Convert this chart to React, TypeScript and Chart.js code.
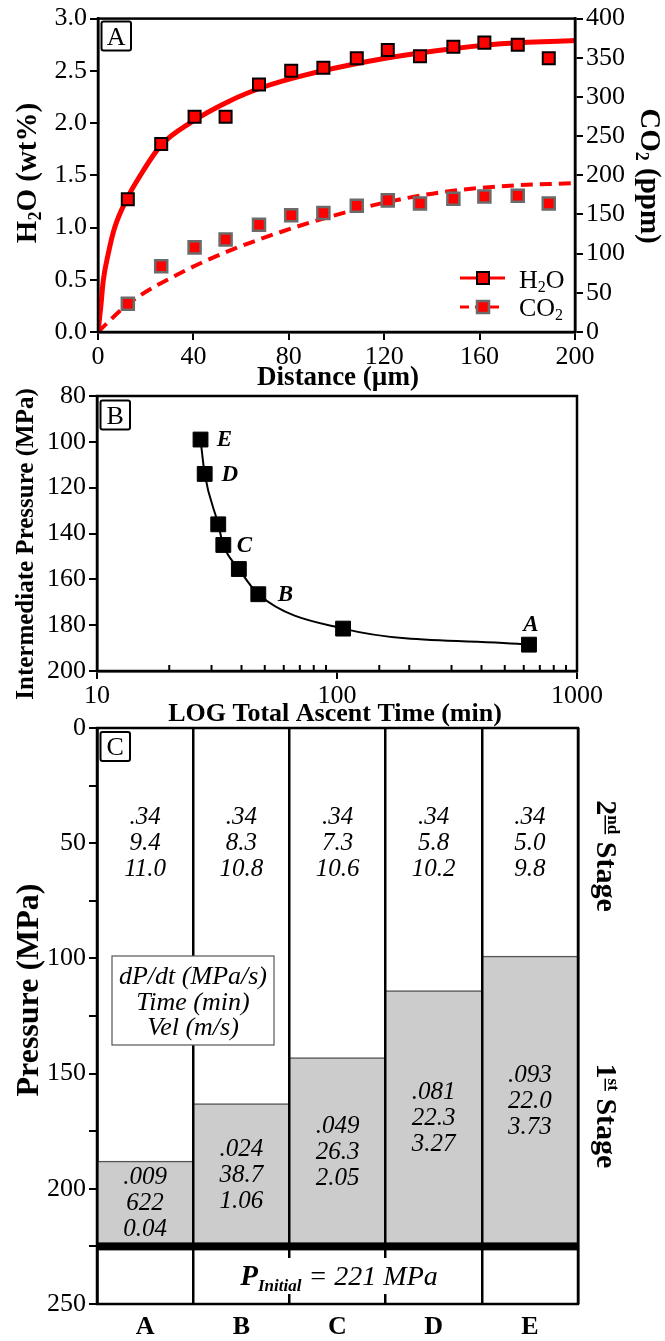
import React, { useEffect, useRef } from 'react';
import { Chart, registerables } from 'chart.js';

Chart.register(...registerables);

const SERIF = '"Liberation Serif", "Times New Roman", Times, serif';
Chart.defaults.font.family = SERIF;
Chart.defaults.color = '#000';

// ---------- Panel A data ----------
const distanceUm = [12.5, 26.5, 40.5, 53.5, 67.5, 81, 94.5, 108.5, 121.5, 135, 149, 162, 176, 189];
const h2oWt = [1.27, 1.8, 2.06, 2.06, 2.37, 2.5, 2.53, 2.62, 2.7, 2.64, 2.73, 2.77, 2.75, 2.62];
const co2Ppm = [36, 84, 108, 118, 137, 149, 152, 161, 168, 164, 170, 173, 174, 164];
const h2oFitDistance = [0, 0.6, 1.2, 2.2, 4.3, 7, 12, 17.5, 26.5, 38.5, 55, 70, 85, 113, 141, 169, 200];
const h2oFitWt = [0, 0.12, 0.25, 0.49, 0.75, 1.0, 1.27, 1.49, 1.79, 2.0, 2.21, 2.35, 2.45, 2.59, 2.69, 2.76, 2.79];
const co2FitDistance = [0, 12.7, 37, 57, 76, 97, 120, 143, 169, 200];
const co2FitPpm = [0, 36, 79, 106, 127, 147, 165, 178, 186, 190];

// ---------- Panel B data ----------
const totalAscentMin = [27.0, 28.1, 32.0, 33.6, 39.0, 47.0, 106, 631];
const intermediateMPa = [99, 114, 136, 145, 155.5, 166.5, 181.5, 188.5];
const pointLetters = ['E', 'D', '', 'C', '', 'B', '', 'A'];
const logMajorTicks = [10, 100, 1000];

// ---------- Panel C data ----------
const scenarios = ['A', 'B', 'C', 'D', 'E'];
const firstStageTopMPa = [188, 163, 143, 114, 99];
const initialLevelMPa = 225;
const secondStageMidMPa = 50;
const dpdt2 = ['.34', '.34', '.34', '.34', '.34'];
const time2 = ['9.4', '8.3', '7.3', '5.8', '5.0'];
const vel2 = ['11.0', '10.8', '10.6', '10.2', '9.8'];
const dpdt1 = ['.009', '.024', '.049', '.081', '.093'];
const time1 = ['622', '38.7', '26.3', '22.3', '22.0'];
const vel1 = ['0.04', '1.06', '2.05', '3.27', '3.73'];

// ---------- layout ----------
const W = 665;
const TOP_A = 0, H_A = 392;
const TOP_B = 370, H_B = 360;
const TOP_C = 700, H_C = 641;

type Run = { t: string; size: number; bold?: boolean; italic?: boolean; dy?: number; underline?: boolean };
const fontOf = (r: Run) => `${r.italic ? 'italic ' : ''}${r.bold ? 'bold ' : ''}${r.size}px ${SERIF}`;

function drawRuns(ctx: CanvasRenderingContext2D, runs: Run[], x: number, y: number, rot = 0, align: 'center' | 'left' = 'center') {
  ctx.save();
  ctx.translate(x, y);
  ctx.rotate(rot);
  ctx.textBaseline = 'alphabetic';
  ctx.textAlign = 'left';
  ctx.fillStyle = '#000';
  let total = 0;
  const widths = runs.map((r) => {
    ctx.font = fontOf(r);
    const w = ctx.measureText(r.t).width;
    total += w;
    return w;
  });
  let cx = align === 'center' ? -total / 2 : 0;
  runs.forEach((r, i) => {
    ctx.font = fontOf(r);
    const by = r.dy || 0;
    ctx.fillText(r.t, cx, by);
    if (r.underline) ctx.fillRect(cx, by + 2, widths[i], 1.5);
    cx += widths[i];
  });
  ctx.restore();
  return total;
}

function letterBox(ctx: CanvasRenderingContext2D, letter: string, x: number, y: number) {
  ctx.save();
  ctx.strokeStyle = '#000';
  ctx.lineWidth = 2;
  ctx.beginPath();
  (ctx as any).roundRect ? (ctx as any).roundRect(x, y, 29.5, 29, 2) : ctx.rect(x, y, 29.5, 29);
  ctx.fillStyle = '#fff';
  ctx.fill();
  ctx.stroke();
  ctx.fillStyle = '#000';
  ctx.font = `26px ${SERIF}`;
  ctx.textAlign = 'center';
  ctx.textBaseline = 'alphabetic';
  ctx.fillText(letter, x + 14.75, y + 23);
  ctx.restore();
}

function frame(ctx: CanvasRenderingContext2D, ca: any) {
  ctx.save();
  ctx.strokeStyle = '#000';
  ctx.lineWidth = 2.5;
  ctx.strokeRect(ca.left, ca.top, ca.right - ca.left, ca.bottom - ca.top);
  ctx.restore();
}

function square(ctx: CanvasRenderingContext2D, x: number, y: number, s: number, fill: string, stroke: string, lw: number) {
  ctx.save();
  ctx.fillStyle = fill;
  ctx.strokeStyle = stroke;
  ctx.lineWidth = lw;
  ctx.beginPath();
  ctx.rect(x - s / 2, y - s / 2, s, s);
  ctx.fill();
  ctx.stroke();
  ctx.restore();
}

const tickFont = { family: SERIF, size: 26 };

const panelAPlugin = {
  id: 'panelA',
  afterDraw(chart: any) {
    const { ctx, chartArea } = chart;
    frame(ctx, chartArea);
    ctx.save();
    ctx.translate(0, -TOP_A);
    letterBox(ctx, 'A', 101.5, 21.5);
    // legend
    const ly1 = 278, ly2 = 307;
    ctx.strokeStyle = '#ff0000';
    ctx.lineWidth = 3;
    ctx.beginPath(); ctx.moveTo(460, ly1); ctx.lineTo(505, ly1); ctx.stroke();
    ctx.setLineDash([9, 6]);
    ctx.beginPath(); ctx.moveTo(460, ly2); ctx.lineTo(505, ly2); ctx.stroke();
    ctx.setLineDash([]);
    square(ctx, 483, ly1, 12, '#ff0000', '#000', 2);
    square(ctx, 483, ly2, 12, '#ff0000', '#6b6b6b', 2.5);
    drawRuns(ctx, [{ t: 'H', size: 26 }, { t: '2', size: 16, dy: 4 }, { t: 'O', size: 26 }], 519, 288, 0, 'left');
    drawRuns(ctx, [{ t: 'CO', size: 26 }, { t: '2', size: 16, dy: 4 }], 519, 316, 0, 'left');
    // titles
    drawRuns(ctx, [
      { t: 'H', size: 29, bold: true },
      { t: '2', size: 18, bold: true, dy: 5 },
      { t: 'O (wt%)', size: 29, bold: true },
    ], 36, 173, -Math.PI / 2);
    drawRuns(ctx, [
      { t: 'CO', size: 29, bold: true },
      { t: '2', size: 18, bold: true, dy: 5 },
      { t: ' (ppm)', size: 29, bold: true },
    ], 641, 176, Math.PI / 2);
    drawRuns(ctx, [{ t: 'Distance (\u00b5m)', size: 27, bold: true }], 338, 385);
    ctx.restore();
  },
};

const panelBPlugin = {
  id: 'panelB',
  afterDraw(chart: any) {
    const { ctx, chartArea } = chart;
    frame(ctx, chartArea);
    const xs = chart.scales.x;
    ctx.save();
    ctx.strokeStyle = '#000';
    ctx.lineWidth = 2;
    xs.ticks.forEach((t: any) => {
      if (logMajorTicks.includes(t.value)) return;
      const px = xs.getPixelForValue(t.value);
      ctx.beginPath();
      ctx.moveTo(px, chartArea.bottom);
      ctx.lineTo(px, chartArea.bottom - 6);
      ctx.stroke();
    });
    const offsets: Record<string, [number, number]> = { E: [24, 1], D: [25, 1], C: [21, 1], B: [27, 1], A: [2, -20] };
    const meta = chart.getDatasetMeta(0);
    ctx.font = `italic bold 23px ${SERIF}`;
    ctx.fillStyle = '#000';
    ctx.textAlign = 'center';
    ctx.textBaseline = 'middle';
    meta.data.forEach((pt: any, i: number) => {
      const L = pointLetters[i];
      if (!L) return;
      const o = offsets[L];
      ctx.fillText(L, pt.x + o[0], pt.y + o[1]);
    });
    ctx.translate(0, -TOP_B);
    letterBox(ctx, 'B', 100.5, 400.5);
    drawRuns(ctx, [{ t: 'Intermediate Pressure (MPa)', size: 25, bold: true }], 33, 544, -Math.PI / 2);
    drawRuns(ctx, [{ t: 'LOG Total Ascent Time (min)', size: 26, bold: true }], 335, 721);
    ctx.restore();
  },
};

const panelCPlugin = {
  id: 'panelC',
  afterDraw(chart: any) {
    const { ctx, chartArea: ca } = chart;
    const xs = chart.scales.x;
    const ys = chart.scales.y;
    ctx.save();
    const yb = ys.getPixelForValue(initialLevelMPa);
    ctx.fillStyle = '#000';
    ctx.fillRect(ca.left, yb - 4, ca.right - ca.left, 8);
    ctx.restore();
    frame(ctx, ca);
    ctx.save();
    ctx.fillStyle = '#000';
    ctx.font = `italic 25px ${SERIF}`;
    ctx.textAlign = 'center';
    ctx.textBaseline = 'middle';
    const LH = 26;
    scenarios.forEach((_, i) => {
      const cx = xs.getPixelForValue(i);
      const c2 = ys.getPixelForValue(secondStageMidMPa);
      [dpdt2[i], time2[i], vel2[i]].forEach((t, k) => ctx.fillText(t, cx, c2 + (k - 1) * LH));
      const c1 = ys.getPixelForValue((firstStageTopMPa[i] + initialLevelMPa) / 2);
      [dpdt1[i], time1[i], vel1[i]].forEach((t, k) => ctx.fillText(t, cx, c1 + (k - 1) * LH));
    });
    ctx.restore();

    ctx.save();
    ctx.translate(0, -TOP_C);
    const bx = 112, by = 956, bw = 162, bh = 89;
    ctx.fillStyle = '#fff';
    ctx.fillRect(bx, by, bw, bh);
    ctx.strokeStyle = '#555';
    ctx.lineWidth = 1.2;
    ctx.strokeRect(bx, by, bw, bh);
    ctx.fillStyle = '#000';
    ctx.font = `italic 26px ${SERIF}`;
    ctx.textAlign = 'center';
    ctx.textBaseline = 'middle';
    ctx.fillText('dP/dt (MPa/s)', bx + bw / 2, 977);
    ctx.fillText('Time (min)', bx + bw / 2, 1003);
    ctx.fillText('Vel (m/s)', bx + bw / 2, 1028);
    const runs: Run[] = [
      { t: 'P', size: 29, italic: true, bold: true },
      { t: 'Initial', size: 17, italic: true, bold: true, dy: 6 },
      { t: ' = 221 MPa', size: 28, italic: true },
    ];
    ctx.fillStyle = '#fff';
    ctx.fillRect(226, 1258, 228, 36);
    drawRuns(ctx, runs, 339, 1285);
    drawRuns(ctx, [
      { t: '2', size: 30, bold: true },
      { t: 'nd', size: 17, bold: true, dy: -11, underline: true },
      { t: ' Stage', size: 30, bold: true },
    ], 597, 856, Math.PI / 2);
    drawRuns(ctx, [
      { t: '1', size: 30, bold: true },
      { t: 'st', size: 17, bold: true, dy: -11, underline: true },
      { t: ' Stage', size: 30, bold: true },
    ], 597, 1116, Math.PI / 2);
    letterBox(ctx, 'C', 100.5, 732);
    drawRuns(ctx, [{ t: 'Pressure (MPa)', size: 32, bold: true }], 38, 990, -Math.PI / 2);
    ctx.restore();
  },
};

function cfgA(): any {
  return {
    type: 'line',
    data: {
      datasets: [
        {
          label: 'H2O',
          data: distanceUm.map((x, i) => ({ x, y: h2oWt[i] })),
          yAxisID: 'y',
          showLine: false,
          pointStyle: 'rect',
          pointRadius: 8.5,
          pointBackgroundColor: '#ff0000',
          pointBorderColor: '#000',
          pointBorderWidth: 2,
        },
        {
          label: 'CO2',
          data: distanceUm.map((x, i) => ({ x, y: co2Ppm[i] })),
          yAxisID: 'y2',
          showLine: false,
          pointStyle: 'rect',
          pointRadius: 8.5,
          pointBackgroundColor: '#ff0000',
          pointBorderColor: '#6b6b6b',
          pointBorderWidth: 2.5,
        },
        {
          label: 'H2O fit',
          data: h2oFitDistance.map((x, i) => ({ x, y: h2oFitWt[i] })),
          yAxisID: 'y',
          borderColor: '#ff0000',
          borderWidth: 5,
          pointRadius: 0,
          cubicInterpolationMode: 'monotone',
          fill: false,
        },
        {
          label: 'CO2 fit',
          data: co2FitDistance.map((x, i) => ({ x, y: co2FitPpm[i] })),
          yAxisID: 'y2',
          borderColor: '#ff0000',
          borderWidth: 4,
          borderDash: [12, 7],
          pointRadius: 0,
          cubicInterpolationMode: 'monotone',
          fill: false,
        },
      ],
    },
    options: {
      animation: false,
      responsive: false,
      layout: { padding: { top: 17, left: 0, right: 0, bottom: 0 } },
      plugins: { legend: { display: false }, tooltip: { enabled: false } },
      scales: {
        x: {
          type: 'linear',
          min: 0,
          max: 200,
          ticks: { stepSize: 40, font: tickFont, color: '#000', padding: 2, maxRotation: 0 },
          grid: { drawOnChartArea: false, tickLength: 8, color: '#000', lineWidth: 2 },
          border: { color: '#000', width: 2.5 },
          afterFit: (s: any) => { s.height = H_A - 332; },
        },
        y: {
          position: 'left',
          min: 0,
          max: 3,
          ticks: { stepSize: 0.5, font: tickFont, color: '#000', padding: 3, callback: (v: any) => Number(v).toFixed(1) },
          grid: { drawOnChartArea: false, tickLength: 8, color: '#000', lineWidth: 2 },
          border: { color: '#000', width: 2.5 },
          afterFit: (s: any) => { s.width = 98; },
        },
        y2: {
          position: 'right',
          min: 0,
          max: 400,
          ticks: { stepSize: 50, font: tickFont, color: '#000', padding: 3 },
          grid: { drawOnChartArea: false, tickLength: 8, color: '#000', lineWidth: 2 },
          border: { color: '#000', width: 2.5 },
          afterFit: (s: any) => { s.width = W - 575; },
        },
      },
    },
    plugins: [panelAPlugin],
  };
}

function cfgB(): any {
  return {
    type: 'line',
    data: {
      datasets: [
        {
          label: 'Intermediate pressure',
          data: totalAscentMin.map((x, i) => ({ x, y: intermediateMPa[i] })),
          borderColor: '#000',
          borderWidth: 2,
          pointStyle: 'rect',
          pointRadius: 10.5,
          pointBackgroundColor: '#000',
          pointBorderColor: '#000',
          pointBorderWidth: 1,
          cubicInterpolationMode: 'monotone',
          fill: false,
        },
      ],
    },
    options: {
      animation: false,
      responsive: false,
      layout: { padding: { top: 396 - TOP_B, left: 0, right: W - 577, bottom: 0 } },
      plugins: { legend: { display: false }, tooltip: { enabled: false } },
      scales: {
        x: {
          type: 'logarithmic',
          min: 10,
          max: 1000,
          ticks: {
            font: tickFont,
            color: '#000',
            padding: 2,
            autoSkip: false,
            maxRotation: 0,
            callback: (v: any) => (logMajorTicks.includes(Number(v)) ? String(v) : ''),
          },
          grid: {
            drawOnChartArea: false,
            tickLength: 8,
            color: '#000',
            lineWidth: 2,
            tickColor: (c: any) => (c.tick && logMajorTicks.includes(c.tick.value) ? '#000' : 'rgba(0,0,0,0)'),
          },
          border: { color: '#000', width: 2.5 },
          afterFit: (s: any) => { s.height = TOP_B + H_B - 671; },
        },
        y: {
          reverse: true,
          min: 80,
          max: 200,
          ticks: { stepSize: 20, font: tickFont, color: '#000', padding: 3 },
          grid: { drawOnChartArea: false, tickLength: 8, color: '#000', lineWidth: 2 },
          border: { color: '#000', width: 2.5 },
          afterFit: (s: any) => { s.width = 97; },
        },
      },
    },
    plugins: [panelBPlugin],
  };
}

function cfgC(): any {
  return {
    type: 'bar',
    data: {
      labels: scenarios,
      datasets: [
        {
          label: '1st stage',
          data: firstStageTopMPa.map((t) => [t, initialLevelMPa]),
          backgroundColor: '#cccccc',
          borderColor: '#555555',
          borderWidth: { top: 1.5, right: 0, bottom: 0, left: 0 },
          borderSkipped: false,
          barPercentage: 1,
          categoryPercentage: 1,
        },
      ],
    },
    options: {
      animation: false,
      responsive: false,
      layout: { padding: { top: 728 - TOP_C, left: 0, right: W - 578, bottom: 0 } },
      plugins: { legend: { display: false }, tooltip: { enabled: false } },
      scales: {
        x: {
          type: 'category',
          offset: true,
          ticks: { font: { family: SERIF, size: 26, weight: 'bold' }, color: '#000', padding: 8 },
          grid: { offset: true, color: '#000', lineWidth: 2.5, drawTicks: false, drawOnChartArea: true, z: 1 },
          border: { display: false },
          afterFit: (s: any) => { s.height = TOP_C + H_C - 1304; },
        },
        y: {
          reverse: true,
          min: 0,
          max: 250,
          ticks: {
            stepSize: 25,
            font: tickFont,
            color: '#000',
            padding: 3,
            autoSkip: false,
            callback: (v: any) => (Number(v) % 50 === 0 ? String(v) : ''),
          },
          grid: { drawOnChartArea: false, tickLength: 8, color: '#000', lineWidth: 2 },
          border: { color: '#000', width: 2.5 },
          afterFit: (s: any) => { s.width = 97; },
        },
      },
    },
    plugins: [panelCPlugin],
  };
}

export default function App() {
  const refA = useRef<HTMLCanvasElement>(null);
  const refB = useRef<HTMLCanvasElement>(null);
  const refC = useRef<HTMLCanvasElement>(null);

  useEffect(() => {
    const charts = [
      new Chart(refA.current as HTMLCanvasElement, cfgA()),
      new Chart(refB.current as HTMLCanvasElement, cfgB()),
      new Chart(refC.current as HTMLCanvasElement, cfgC()),
    ];
    return () => charts.forEach((c) => c.destroy());
  }, []);

  return (
    <div style={{ position: 'absolute', left: 0, top: 0, width: W, height: 1341, background: '#fff', overflow: 'hidden' }}>
      <canvas ref={refA} width={W} height={H_A} style={{ position: 'absolute', left: 0, top: TOP_A }} />
      <canvas ref={refB} width={W} height={H_B} style={{ position: 'absolute', left: 0, top: TOP_B }} />
      <canvas ref={refC} width={W} height={H_C} style={{ position: 'absolute', left: 0, top: TOP_C }} />
    </div>
  );
}
